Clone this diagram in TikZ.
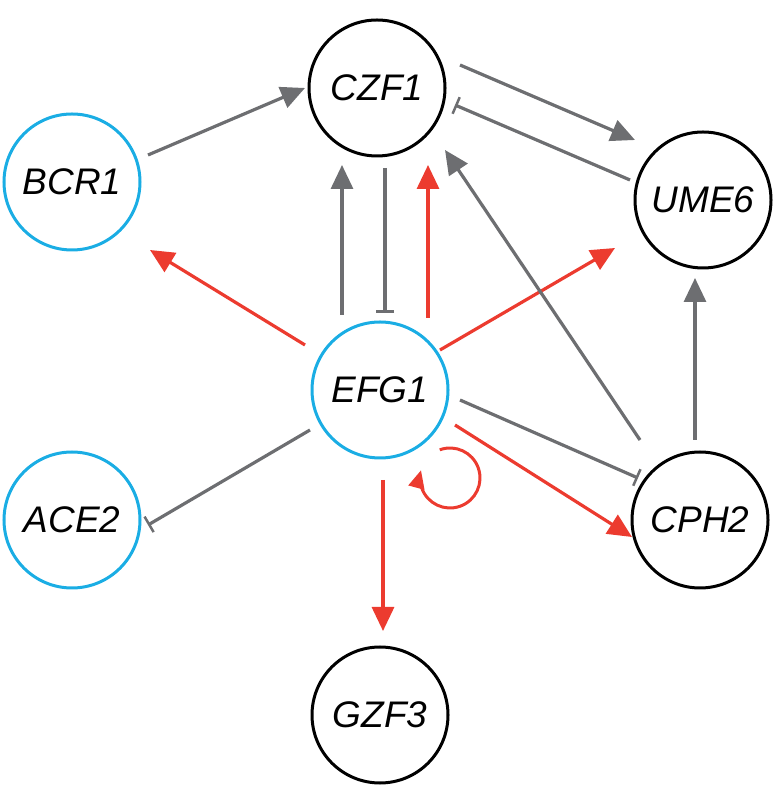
\documentclass[tikz,border=0pt]{standalone}
\usepackage{fontspec}
\setmainfont{Liberation Sans}
\usetikzlibrary{arrows.meta,calc}
\definecolor{cblue}{HTML}{1AADE4}
\definecolor{cred}{HTML}{EC3B2F}
\definecolor{cgray}{HTML}{6D6E71}
\begin{document}
\begin{tikzpicture}[x=1pt,y=1pt,
  gene/.style={circle,draw,line width=3pt,minimum size=136pt,inner sep=0pt,font=\fontsize{37}{40}\selectfont\itshape},
  bgene/.style={gene,draw=cblue},
  kgene/.style={gene,draw=black},
  act/.style={line width=3.2pt,-{Triangle[length=24pt,width=22pt]}},
  inh/.style={line width=3.2pt,-{Bar[width=18pt,line width=2.5pt]}},
  ga/.style={act,cgray}, ra/.style={act,cred}, gi/.style={inh,cgray}]
\useasboundingbox (0,0) rectangle (780,800);
\node[kgene] (czf) at (377,712) {CZF1};
\node[bgene] (bcr) at (72,618) {BCR1};
\node[kgene] (ume) at (703,600) {UME6};
\node[bgene] (efg) at (380,410) {EFG1};
\node[bgene] (ace) at (72,280) {ACE2};
\node[kgene] (cph) at (700,280) {CPH2};
\node[kgene] (gzf) at (380,85) {GZF3};
\draw[ga] ($(bcr)+(76,27)$) -- ($(czf)+(-72,0)$);
\draw[ga] ($(czf)+(83,23)$) -- ($(ume)+(-68,60)$);
\draw[gi] ($(ume)+(-73,20)$) -- ($(czf)+(78,-17)$);
\draw[ga] ($(efg)+(-38,75)$) -- ($(czf)+(-35,-77)$);
\draw[gi] ($(czf)+(8,-80)$) -- ($(efg)+(5,77)$);
\draw[ra] ($(efg)+(48,72)$) -- ($(czf)+(51,-77)$);
\draw[ra] ($(efg)+(-75,45)$) -- ($(bcr)+(78,-68)$);
\draw[ra] ($(efg)+(60,40)$) -- ($(ume)+(-88,-48)$);
\draw[gi] ($(efg)+(-70,-40)$) -- ($(ace)+(76,-5)$);
\draw[gi] ($(efg)+(80,-10)$) -- ($(cph)+(-62,42)$);
\draw[ra] ($(efg)+(75,-35)$) -- ($(cph)+(-68,-17)$);
\draw[ga] ($(cph)+(-60,80)$) -- ($(czf)+(68,-62)$);
\draw[ga] ($(cph)+(-5,80)$) -- ($(ume)+(-8,-78)$);
\draw[ra] ($(efg)+(3,-90)$) -- ($(gzf)+(3,84)$);
\draw[cred,line width=3pt,-{Triangle[length=18pt,width=16pt]}] ($(efg)+(70,-88)+(110:30)$) arc[start angle=110,end angle=-195,radius=30];
\end{tikzpicture}
\end{document}
